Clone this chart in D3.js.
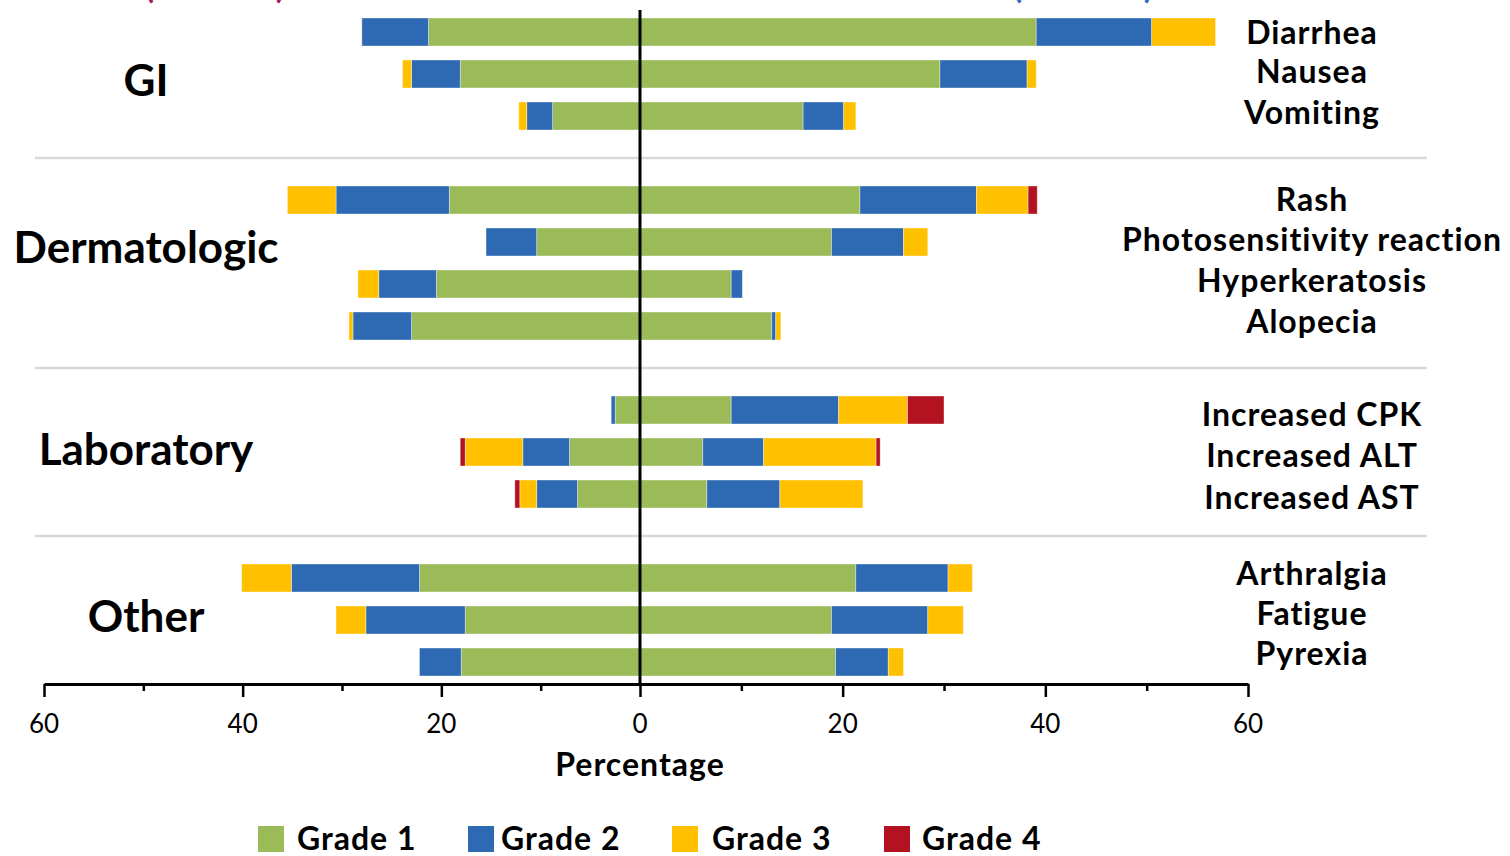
<!DOCTYPE html>
<html>
<head>
<meta charset="utf-8">
<script src="https://cdn.jsdelivr.net/npm/d3@7"></script>
<style>
  html, body { margin: 0; padding: 0; background: #fff; }
  svg { display: block; }
  text { font-family: Lato, "Open Sans", sans-serif; }
</style>
</head>
<body>
<svg id="chart" width="1510" height="856"></svg>
<script>
// ---------- data ----------
const events = ["Diarrhea", "Nausea", "Vomiting", "Rash", "Photosensitivity reaction", "Hyperkeratosis", "Alopecia",
  "Increased CPK", "Increased ALT", "Increased AST", "Arthralgia", "Fatigue", "Pyrexia"];
const eventGroups = ["GI", "GI", "GI", "Dermatologic", "Dermatologic", "Dermatologic", "Dermatologic",
  "Laboratory", "Laboratory", "Laboratory", "Other", "Other", "Other"];
const groups = ["GI", "Dermatologic", "Laboratory", "Other"];
const grades = ["Grade 1", "Grade 2", "Grade 3", "Grade 4"];
const gradeColors = ["#9BBB59", "#2E6AB3", "#FFC000", "#B31220"];

// left arm (percent per grade)
const leftG1 = [21.3, 18.1, 8.8, 19.2, 10.4, 20.5, 23.0, 2.5, 7.1, 6.3, 22.2, 17.6, 18.0];
const leftG2 = [6.7, 4.9, 2.6, 11.4, 5.1, 5.8, 5.9, 0.4, 4.7, 4.1, 12.9, 10.0, 4.2];
const leftG3 = [0, 0.9, 0.8, 4.9, 0, 2.1, 0.4, 0, 5.8, 1.7, 5.0, 3.0, 0];
const leftG4 = [0, 0, 0, 0, 0, 0, 0, 0, 0.5, 0.5, 0, 0, 0];
// right arm (percent per grade)
const rightG1 = [39.1, 29.6, 16.1, 21.7, 18.9, 9.0, 13.0, 9.0, 6.2, 6.6, 21.3, 18.9, 19.3];
const rightG2 = [11.4, 8.6, 4.0, 11.5, 7.1, 1.1, 0.4, 10.6, 6.0, 7.2, 9.1, 9.5, 5.2];
const rightG3 = [6.3, 0.9, 1.2, 5.1, 2.4, 0, 0.5, 6.8, 11.1, 8.2, 2.4, 3.5, 1.5];
const rightG4 = [0, 0, 0, 0.9, 0, 0, 0, 3.6, 0.4, 0, 0, 0, 0];

const tickValues = [-60, -50, -40, -30, -20, -10, 0, 10, 20, 30, 40, 50, 60];
const tickLabelValues = [-60, -40, -20, 0, 20, 40, 60];
const xTitle = "Percentage";
const armNotes = ["(N = 100)", "(N = 100)"];
const armNoteColors = ["#A3195B", "#2E6AB3"];

// ---------- layout ----------
const svg = d3.select("#chart");
const slots = [];
let prevGroup = null;
events.forEach((e, i) => {
  if (prevGroup !== null && eventGroups[i] !== prevGroup) slots.push("sep" + slots.length);
  slots.push(e);
  prevGroup = eventGroups[i];
});

const y = d3.scaleBand().domain(slots).range([11, 683]).paddingInner(1 / 3).paddingOuter(1 / 6);
const x = d3.scaleLinear().domain([-60, 0, 60]).range([44, 640, 1248]);

const leftArr = [leftG1, leftG2, leftG3, leftG4];
const rightArr = [rightG1, rightG2, rightG3, rightG4];
const segs = [];
events.forEach((e, i) => {
  let lc = 0, rc = 0;
  grades.forEach((g, k) => {
    const lv = leftArr[k][i];
    if (lv > 0) { segs.push({ e, k, x0: -(lc + lv), x1: -lc }); }
    lc += lv;
    const rv = rightArr[k][i];
    if (rv > 0) { segs.push({ e, k, x0: rc, x1: rc + rv }); }
    rc += rv;
  });
});

// separators
const sepSlots = slots.filter(s => s.startsWith("sep"));
svg.append("g").selectAll("line").data(sepSlots).join("line")
  .attr("x1", 35).attr("x2", 1427)
  .attr("y1", d => y(d) + y.bandwidth() / 2).attr("y2", d => y(d) + y.bandwidth() / 2)
  .attr("stroke", "#d9d9d9").attr("stroke-width", 2.5);

// bars
svg.append("g").selectAll("rect").data(segs).join("rect")
  .attr("x", d => x(d.x0)).attr("width", d => x(d.x1) - x(d.x0))
  .attr("y", d => y(d.e)).attr("height", y.bandwidth())
  .attr("fill", d => gradeColors[d.k])
  .attr("stroke", "#ffffff").attr("stroke-opacity", 0.45).attr("stroke-width", 0.8);

// zero line
svg.append("line").attr("x1", x(0)).attr("x2", x(0)).attr("y1", 10).attr("y2", 684)
  .attr("stroke", "#000").attr("stroke-width", 3);

// axis
const axisG = svg.append("g").attr("transform", "translate(0,684)");
axisG.call(d3.axisBottom(x).tickValues(tickValues).tickSize(0).tickFormat(""));
axisG.select(".domain").attr("stroke", "#000").attr("stroke-width", 3);
axisG.selectAll(".tick line").attr("stroke", "#000").attr("stroke-width", 2.5)
  .attr("y2", d => (d % 20 === 0 ? 13 : 7));
svg.append("g").selectAll("text").data(tickLabelValues).join("text")
  .attr("x", d => x(d)).attr("y", 733)
  .attr("text-anchor", "middle").attr("font-size", 26).attr("fill", "#000")
  .text(d => Math.abs(d));
svg.append("text").attr("x", x(0)).attr("y", 776).attr("text-anchor", "middle")
  .attr("font-size", 32).attr("font-weight", 700).attr("letter-spacing", 1).text(xTitle);

// right event labels
const labelBase = [44, 83, 124, 211, 251, 292, 333, 426, 467, 509, 585, 625, 665];
svg.append("g").selectAll("text").data(events).join("text")
  .attr("x", 1312).attr("y", (d, i) => labelBase[i])
  .attr("text-anchor", "middle").attr("font-size", 32).attr("font-weight", 700)
  .attr("letter-spacing", 1).attr("fill", "#000")
  .text(d => d);

// group labels
const groupBase = [96, 263, 465, 632];
svg.append("g").selectAll("text").data(groups).join("text")
  .attr("x", 146)
  .attr("y", (d, i) => groupBase[i])
  .attr("text-anchor", "middle").attr("font-size", 44).attr("font-weight", 700).attr("fill", "#000")
  .text(d => d);

// arm notes (clipped at top, as in the reference)
svg.append("g").selectAll("text").data(armNotes).join("text")
  .attr("x", (d, i) => [215, 1083][i]).attr("y", -2)
  .attr("text-anchor", "middle").attr("font-size", 34).attr("font-weight", 700)
  .attr("fill", (d, i) => armNoteColors[i]).text(d => d);

// legend
const legX = [258, 468, 672, 884];
const leg = svg.append("g").selectAll("g").data(grades).join("g")
  .attr("transform", (d, i) => `translate(${legX[i]},826)`);
leg.append("rect").attr("width", 26).attr("height", 26).attr("fill", (d, i) => gradeColors[i]);
leg.append("text").attr("x", (d, i) => [39, 33, 40, 38][i]).attr("y", 24)
  .attr("font-size", 32).attr("font-weight", 700).attr("letter-spacing", 1)
  .attr("fill", "#000").text(d => d);
</script>
</body>
</html>
